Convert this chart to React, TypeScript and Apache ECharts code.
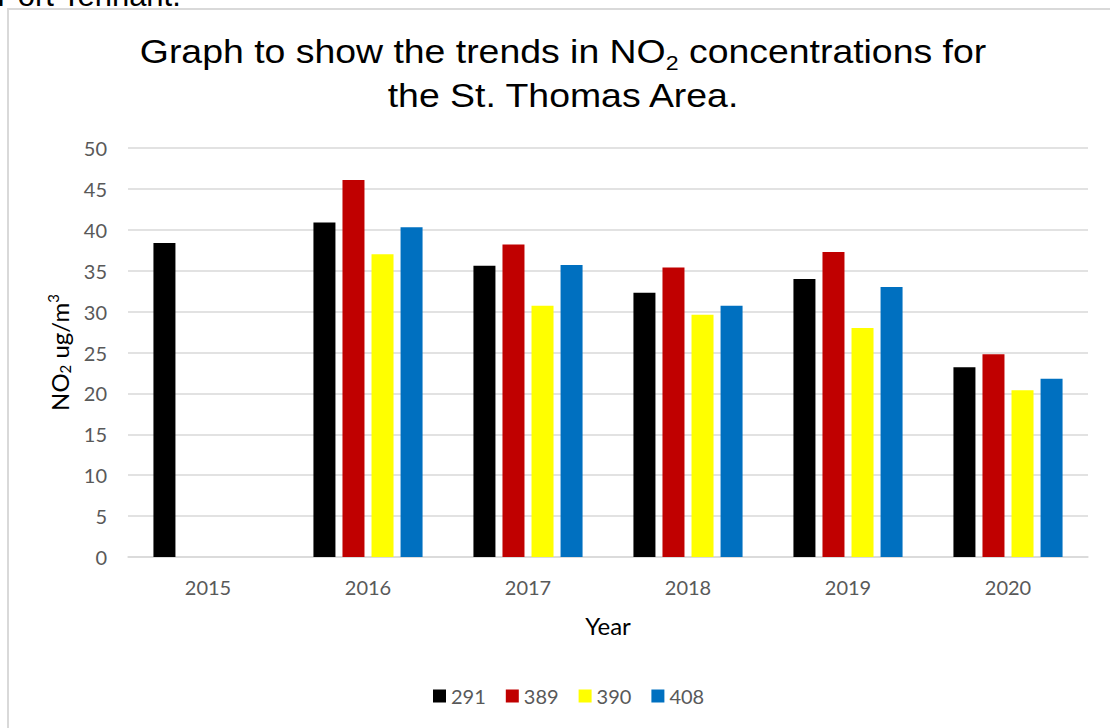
import React, { useEffect, useRef } from "react";
import * as echarts from "echarts";

// Annual mean NO2 (ug/m3) at each monitoring site
const years = ["2015", "2016", "2017", "2018", "2019", "2020"];
const site291 = [38.4, 40.9, 35.6, 32.3, 34.0, 23.2];
const site389 = [null, 46.1, 38.2, 35.4, 37.3, 24.8];
const site390 = [null, 37.0, 30.7, 29.6, 28.0, 20.4];
const site408 = [null, 40.3, 35.7, 30.7, 33.0, 21.8];
const siteNames = ["291", "389", "390", "408"];
const siteColors = ["#000000", "#C00000", "#FFFF00", "#0070C0"];
const yTicks = { min: 0, max: 50, interval: 5 };

const TICK_FONT = "Lato, 'Open Sans', sans-serif";
const TITLE_FONT = "'Liberation Sans', Arial, sans-serif";

export default function App() {
  const ref = useRef<HTMLDivElement>(null);

  useEffect(() => {
    if (!ref.current) return;
    const chart = echarts.init(ref.current, null, { renderer: "svg" });
    const seriesData = [site291, site389, site390, site408];

    chart.setOption({
      animation: false,
      backgroundColor: "#ffffff",
      graphic: [
        {
          // heading of the page section, running off the top edge
          type: "text",
          x: -3,
          y: 11,
          style: {
            text: "Port Tennant.",
            font: `31px ${TITLE_FONT}`,
            fill: "#000000",
            verticalAlign: "bottom",
          },
        },
        {
          type: "rect",
          shape: { x: 8, y: 9, width: 1200, height: 800 },
          style: { fill: "none", stroke: "#d9d9d9", lineWidth: 2 },
          silent: true,
        },
        {
          type: "text",
          x: 563,
          y: 74,
          scaleX: 1.1,
          style: {
            text: "Graph to show the trends in NO{sub|2} concentrations for\nthe St. Thomas Area.",
            fontFamily: TITLE_FONT,
            fontSize: 34,
            lineHeight: 44,
            fill: "#000000",
            align: "center",
            verticalAlign: "middle",
            rich: {
              sub: {
                fontFamily: TITLE_FONT,
                fontSize: 21,
                padding: [22, 0, 0, 0],
                fill: "#000000",
              },
            },
          },
        },
      ],
      grid: { left: 128, right: 22, top: 148, bottom: 171, containLabel: false },
      legend: {
        left: 428,
        top: 681,
        itemWidth: 13,
        itemHeight: 13,
        itemGap: 20,
        icon: "rect",
        textStyle: { fontFamily: TICK_FONT, fontSize: 20, color: "#595959" },
        data: siteNames,
      },
      xAxis: {
        type: "category",
        data: years,
        name: "Year",
        nameLocation: "middle",
        nameGap: 56,
        nameTextStyle: { fontFamily: TICK_FONT, fontSize: 24, color: "#000000" },
        axisLine: { show: true, lineStyle: { color: "#d9d9d9", width: 1.5 } },
        axisTick: { show: false },
        axisLabel: { fontFamily: TICK_FONT, fontSize: 20, color: "#595959", margin: 20 },
      },
      yAxis: {
        type: "value",
        min: yTicks.min,
        max: yTicks.max,
        interval: yTicks.interval,
        name: "NO{sub|2} ug/m{sup|3}",
        nameLocation: "middle",
        nameGap: 54,
        nameTextStyle: {
          fontFamily: TICK_FONT,
          fontSize: 24,
          color: "#000000",
          rich: {
            sub: { fontFamily: TICK_FONT, fontSize: 15, padding: [12, 0, 0, 0], color: "#000000" },
            sup: { fontFamily: TICK_FONT, fontSize: 15, padding: [0, 0, 12, 0], color: "#000000" },
          },
        },
        axisLine: { show: false },
        axisTick: { show: false },
        axisLabel: { fontFamily: TICK_FONT, fontSize: 20, color: "#595959", margin: 21 },
        splitLine: { lineStyle: { color: "#d9d9d9", width: 1.5 } },
      },
      series: siteNames.map((name, i) => ({
        name,
        type: "bar",
        data: seriesData[i],
        barWidth: 22,
        barGap: "32%",
        itemStyle: { color: siteColors[i] },
      })),
    });

    return () => chart.dispose();
  }, []);

  return (
    <div
      ref={ref}
      style={{ position: "fixed", left: 0, top: 0, width: 1110, height: 728 }}
    />
  );
}
